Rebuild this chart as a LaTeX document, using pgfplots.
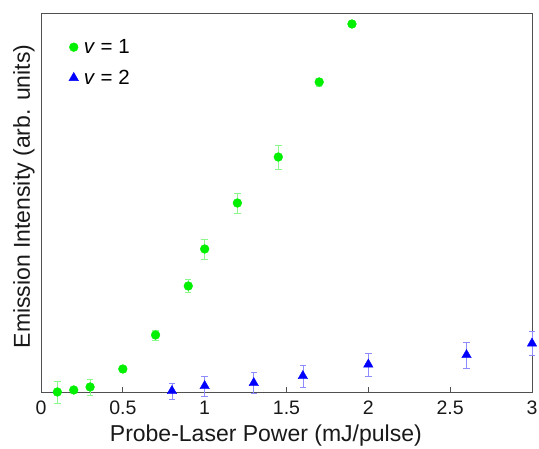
\documentclass[border=0pt]{standalone}
\usepackage{pgfplots}
\pgfplotsset{compat=1.18}
\usepackage{fontspec}
\setmainfont{Liberation Sans}
\definecolor{vgreen}{RGB}{0,240,0}
\definecolor{vblue}{RGB}{0,0,255}
\definecolor{framegray}{RGB}{80,80,80}
\begin{document}
\begin{tikzpicture}
\begin{axis}[
    scale only axis,
    width=491pt, height=379pt,
    xmin=0, xmax=3, ymin=0, ymax=379,
    xtick={0,0.5,1,1.5,2,2.5,3},
    xticklabels={0,0.5,1,1.5,2,2.5,3},
    ytick=\empty,
    xtick pos=bottom,
    tick align=inside,
    major tick length=5pt,
    axis line style={framegray, line width=0.9pt},
    tick style={framegray, line width=0.8pt},
    ticklabel style={font=\fontsize{19.5}{21}\selectfont, text=black!90},
    xticklabel style={anchor=base, yshift=-22.3pt},
    xlabel={Probe-Laser Power (mJ/pulse)},
    ylabel={Emission Intensity (arb. units)},
    label style={font=\fontsize{23}{26}\selectfont, text=black!90},
    xlabel style={at={(rel axis cs:0.458,-0.1315)}, anchor=base},
    ylabel style={at={(rel axis cs:-0.0224,0.516)}, anchor=base},
    clip=false,
    legend style={at={(rel axis cs:0.0505,0.9415)}, anchor=north west, draw=none, fill=none,
        font=\fontsize{20.5}{22}\selectfont, row sep=11pt, column sep=3.3pt},
    legend cell align=left,
]
\addplot[only marks, mark=*, mark size=4.4pt, vgreen,
    error bars/.cd, y dir=both, y explicit,
    error bar style={vgreen!45, line width=0.7pt},
    error mark options={rotate=90, mark size=3.2pt, vgreen!45, line width=0.7pt}]
coordinates {
    (0.1,0) +- (0,11)
    (0.2,2) +- (0,2)
    (0.3,5) +- (0,8)
    (0.5,23) +- (0,3)
    (0.7,57) +- (0,5)
    (0.9,106) +- (0,6.5)
    (1.0,143) +- (0,10)
    (1.2,189) +- (0,10)
    (1.45,235) +- (0,12)
    (1.7,310) +- (0,4)
    (1.9,368) +- (0,2)
};
\addlegendentry{\textit{v} = 1}
\addplot[only marks, mark=triangle*, mark size=5.5pt, vblue,
    error bars/.cd, y dir=both, y explicit,
    error bar style={vblue!45, line width=0.7pt},
    error mark options={rotate=90, mark size=3.2pt, vblue!45, line width=0.7pt}]
coordinates {
    (0.8,1) +- (0,8)
    (1.0,6) +- (0,10)
    (1.3,9) +- (0,10.7)
    (1.6,16) +- (0,11)
    (2.0,27.5) +- (0,11.5)
    (2.6,37) +- (0,13)
    (3.0,48.5) +- (0,12)
};
\addlegendentry{\textit{v} = 2}
\coordinate (bbA) at (rel axis cs:-0.0835,-0.1478);
\coordinate (bbB) at (rel axis cs:1.0143,1.0343);
\end{axis}
\pgfresetboundingbox
\path[use as bounding box] (bbA) rectangle (bbB);
\end{tikzpicture}
\end{document}
